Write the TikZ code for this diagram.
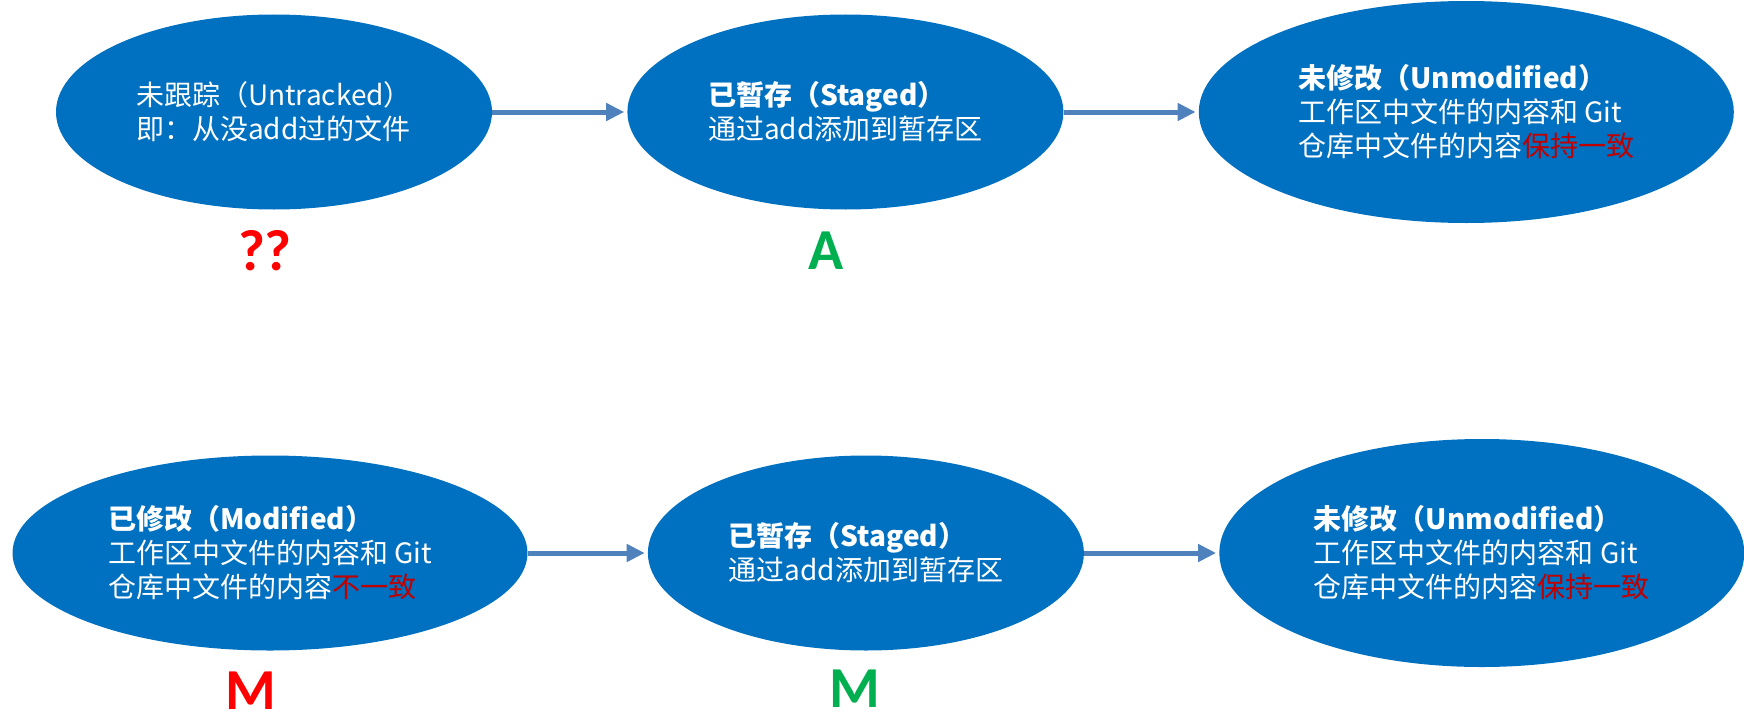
\documentclass[tikz,border=0pt]{standalone}
\usepackage{fontspec}
\setmainfont{Noto Sans CJK SC}
\newfontfamily\labelfont{Carlito}
\usetikzlibrary{arrows.meta,positioning,shapes.geometric}
\definecolor{stateblue}{RGB}{0,112,192}
\definecolor{arrowblue}{RGB}{79,129,189}
\definecolor{keepred}{RGB}{192,0,0}
\definecolor{markred}{RGB}{255,0,0}
\definecolor{markgreen}{RGB}{0,176,80}
\tikzset{
  filestate/.style={
    ellipse,
    fill=stateblue,
    text=white,
    align=left,
    inner sep=0pt,
    minimum width=436pt,
    minimum height=195pt,
    font=\fontsize{28}{34}\selectfont
  },
  flow/.style={-{Triangle[length=18pt,width=17pt]}, line width=5pt, draw=arrowblue, shorten >=3pt},
  statuslabel/.style={font=\labelfont\bfseries\fontsize{58}{58}\selectfont, inner sep=0pt}
}

\begin{document}
\begin{tikzpicture}[node distance=135pt]
    \useasboundingbox (0pt,0pt) rectangle (1744pt,-725pt);
    % first row
    \node[filestate] (untracked) at (274pt,-112pt) {未跟踪（Untracked）\\即：从没add过的文件};
    \node[filestate, right=of untracked] (staged1) {\textbf{已暂存（Staged）}\\通过add添加到暂存区};
    \node[filestate, right=of staged1, minimum width=535pt, minimum height=222pt] (unmod1) {\textbf{未修改（Unmodified）}\\工作区中文件的内容和 Git\\仓库中文件的内容{\color{keepred}保持一致}};
    % second row
    \node[filestate, minimum width=515pt] (modified) at (270pt,-553pt) {\textbf{已修改（Modified）}\\工作区中文件的内容和 Git\\仓库中文件的内容{\color{keepred}不一致}};
    \node[filestate, right=120pt of modified] (staged2) {\textbf{已暂存（Staged）}\\通过add添加到暂存区};
    \node[filestate, right=of staged2, minimum width=525pt, minimum height=228pt] (unmod2) {\textbf{未修改（Unmodified）}\\工作区中文件的内容和 Git\\仓库中文件的内容{\color{keepred}保持一致}};
    \draw[flow] (untracked) -- (staged1);
    \draw[flow] (staged1) -- (unmod1);
    \draw[flow] (modified) -- (staged2);
    \draw[flow] (staged2) -- (unmod2);
    % status letters
    \node[statuslabel, text=markred] (untrackedmark) at (265pt,-251pt) {??};
    \node[statuslabel, text=markgreen] (stagedmark1) at (826pt,-251pt) {A};
    \node[statuslabel, text=markred] (modifiedmark) at (251pt,-691pt) {M};
    \node[statuslabel, text=markgreen] (stagedmark2) at (855pt,-689pt) {M};
\end{tikzpicture}
\end{document}
